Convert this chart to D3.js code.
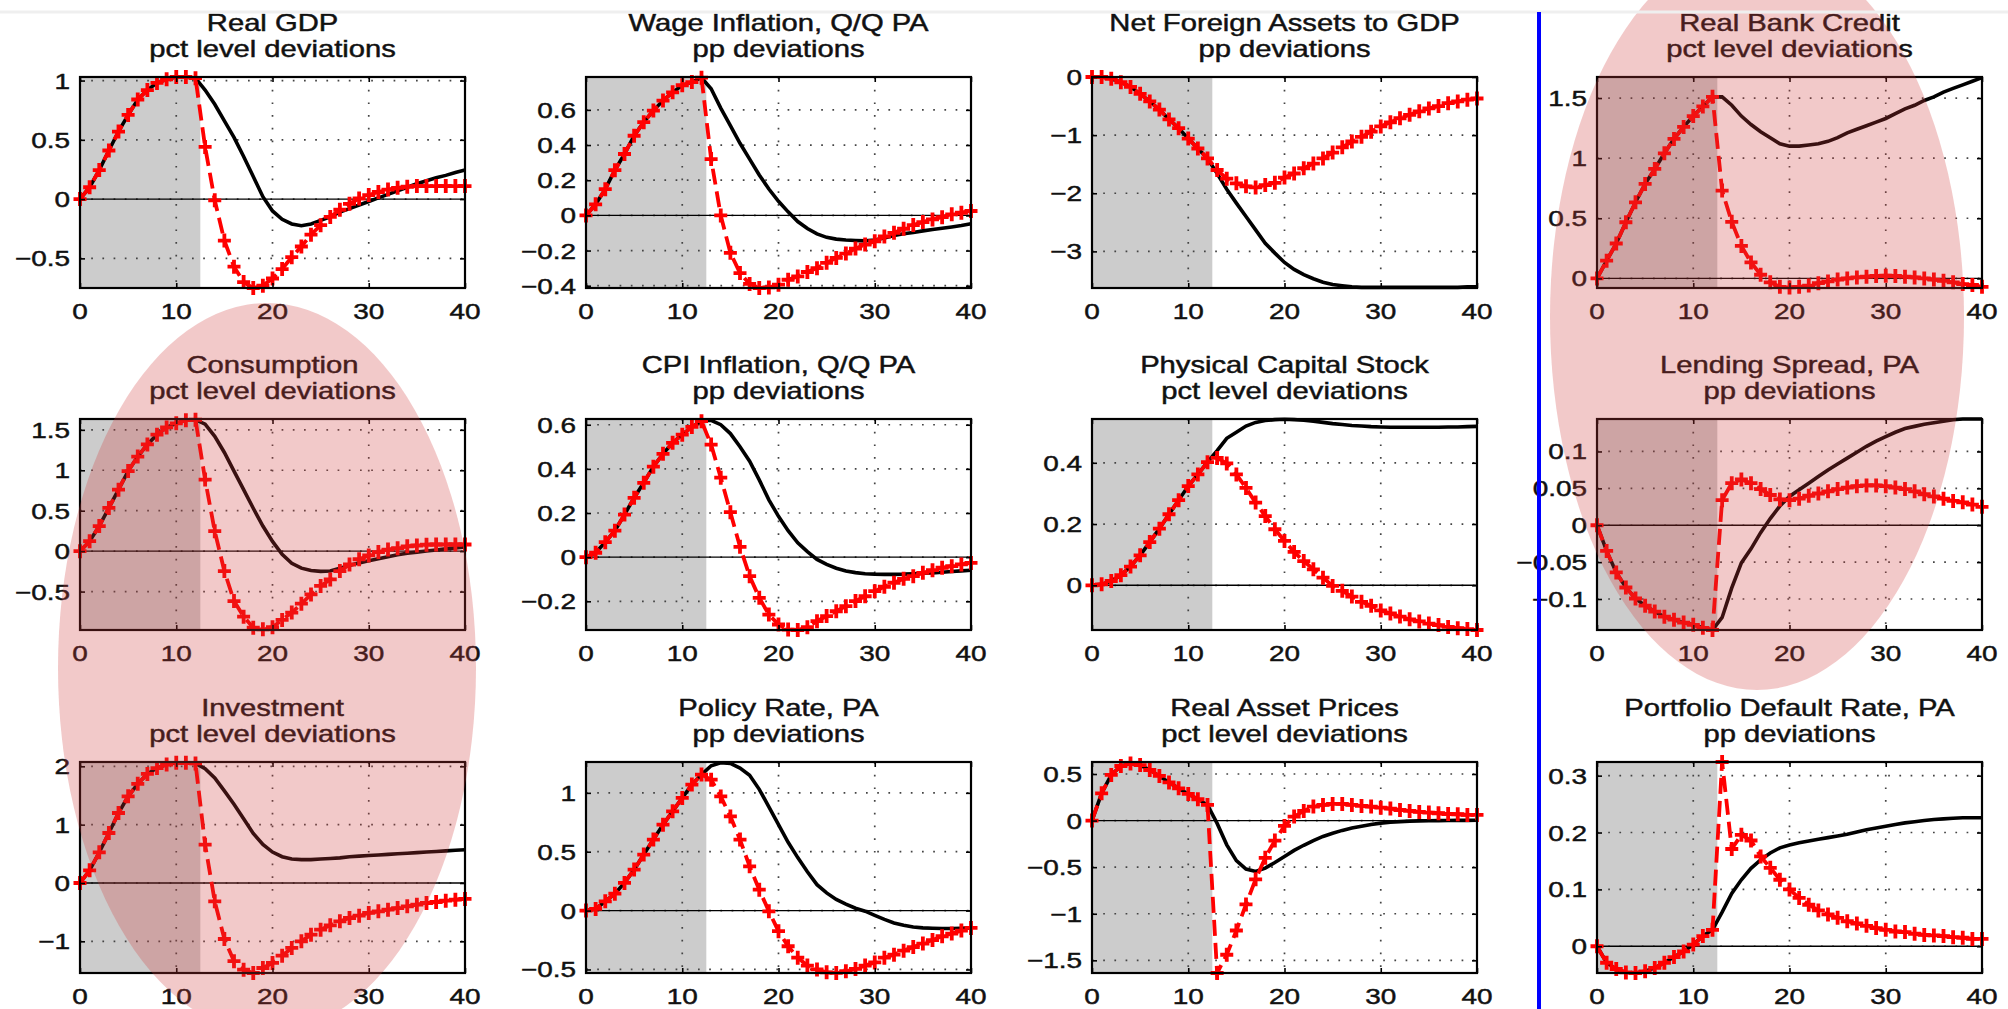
<!DOCTYPE html>
<html>
<head>
<meta charset="utf-8">
<script src="https://cdn.jsdelivr.net/npm/d3@7"></script>
<style>
  body { margin: 0; background: #fff; }
  text { font-family: "Liberation Sans", Arial, sans-serif; fill: #111; stroke: #111; stroke-width: 0.45px; }
</style>
</head>
<body>
<script>
// quarters after the shock
var periods = d3.range(0, 41);
var xTicks = [0, 10, 20, 30, 40];

// red = dashed with + markers, black = solid
var gdpRed = [0, 0.10, 0.245, 0.41, 0.57, 0.71, 0.84, 0.92, 0.98, 1.01, 1.03, 1.03, 1.02,
  0.44, -0.01, -0.35, -0.57, -0.70, -0.75, -0.73, -0.67, -0.59, -0.49,
  -0.40, -0.30, -0.22, -0.15, -0.09, -0.04, 0.005, 0.034, 0.06, 0.08,
  0.095, 0.104, 0.11, 0.11, 0.11, 0.11, 0.11, 0.11];
var gdpBlack = [0, 0.10, 0.245, 0.41, 0.57, 0.71, 0.84, 0.92, 0.98, 1.01, 1.03, 1.03, 1.02,
  0.92, 0.80, 0.66, 0.52, 0.36, 0.19, 0.02, -0.10, -0.17, -0.21,
  -0.225, -0.21, -0.18, -0.15, -0.11, -0.08, -0.05, -0.02, 0.01, 0.04,
  0.07, 0.10, 0.13, 0.155, 0.18, 0.20, 0.225, 0.245];

var wageRed = [0, 0.063, 0.149, 0.257, 0.349, 0.453, 0.53, 0.596, 0.653, 0.70, 0.74, 0.758, 0.783,
  0.32, 0.0, -0.213, -0.328, -0.39, -0.413, -0.41, -0.394, -0.366, -0.347,
  -0.322, -0.30, -0.27, -0.242, -0.217, -0.189, -0.166, -0.147, -0.12, -0.099,
  -0.076, -0.055, -0.038, -0.023, -0.01, 0.006, 0.015, 0.025];
var wageBlack = [0, 0.063, 0.149, 0.257, 0.349, 0.453, 0.53, 0.596, 0.653, 0.70, 0.74, 0.758, 0.783,
  0.72, 0.61, 0.51, 0.41, 0.32, 0.23, 0.15, 0.08, 0.02, -0.035,
  -0.075, -0.105, -0.125, -0.135, -0.14, -0.143, -0.145, -0.14, -0.128, -0.115,
  -0.105, -0.097, -0.088, -0.08, -0.073, -0.066, -0.058, -0.048];

var nfaRed = [0, 0, -0.03, -0.09, -0.17, -0.29, -0.42, -0.56, -0.73, -0.88, -1.06, -1.23, -1.40,
  -1.60, -1.75, -1.83, -1.88, -1.90, -1.86, -1.82, -1.73, -1.66, -1.57,
  -1.49, -1.40, -1.30, -1.21, -1.11, -1.03, -0.94, -0.85, -0.78, -0.71,
  -0.65, -0.59, -0.54, -0.50, -0.45, -0.42, -0.39, -0.37];
var nfaBlack = [0, 0, -0.03, -0.09, -0.17, -0.29, -0.42, -0.56, -0.73, -0.88, -1.06, -1.23, -1.40,
  -1.66, -1.93, -2.17, -2.40, -2.63, -2.86, -3.03, -3.19, -3.31, -3.40,
  -3.47, -3.53, -3.57, -3.59, -3.61, -3.62, -3.62, -3.62, -3.62, -3.62,
  -3.62, -3.62, -3.62, -3.62, -3.62, -3.62, -3.61, -3.61];

var creditRed = [0, 0.147, 0.29, 0.467, 0.633, 0.786, 0.91, 1.04, 1.16, 1.26, 1.35, 1.43, 1.51,
  0.73, 0.47, 0.27, 0.133, 0.03, -0.033, -0.07, -0.075, -0.07, -0.06,
  -0.04, -0.025, -0.01, 0.0, 0.008, 0.014, 0.02, 0.022, 0.02, 0.014,
  0.008, 0.0, -0.01, -0.02, -0.033, -0.047, -0.055, -0.07];
var creditBlack = [0, 0.147, 0.29, 0.467, 0.633, 0.786, 0.91, 1.04, 1.16, 1.26, 1.35, 1.43, 1.51,
  1.51, 1.44, 1.35, 1.28, 1.22, 1.17, 1.12, 1.10, 1.10, 1.11,
  1.12, 1.14, 1.17, 1.21, 1.24, 1.27, 1.30, 1.33, 1.37, 1.41,
  1.44, 1.48, 1.51, 1.55, 1.58, 1.61, 1.64, 1.67];

var consRed = [0, 0.123, 0.31, 0.535, 0.76, 0.99, 1.17, 1.32, 1.44, 1.53, 1.58, 1.62, 1.625,
  0.885, 0.247, -0.247, -0.617, -0.81, -0.947, -0.967, -0.94, -0.85, -0.76,
  -0.65, -0.535, -0.43, -0.35, -0.247, -0.165, -0.10, -0.053, -0.012, 0.02,
  0.037, 0.06, 0.07, 0.08, 0.082, 0.082, 0.082, 0.082];
var consBlack = [0, 0.123, 0.31, 0.535, 0.76, 0.99, 1.17, 1.32, 1.44, 1.53, 1.58, 1.62, 1.625,
  1.57, 1.42, 1.22, 0.99, 0.76, 0.53, 0.31, 0.12, -0.04, -0.15,
  -0.21, -0.24, -0.25, -0.245, -0.21, -0.177, -0.145, -0.12, -0.095, -0.07,
  -0.045, -0.025, -0.012, 0.002, 0.015, 0.028, 0.04, 0.053];

var cpiRed = [0, 0.02, 0.068, 0.12, 0.193, 0.269, 0.337, 0.41, 0.468, 0.518, 0.555, 0.59, 0.616,
  0.51, 0.36, 0.204, 0.047, -0.086, -0.184, -0.26, -0.305, -0.328, -0.33,
  -0.317, -0.29, -0.267, -0.245, -0.222, -0.199, -0.177, -0.154, -0.134, -0.116,
  -0.098, -0.086, -0.071, -0.059, -0.048, -0.041, -0.033, -0.026];
var cpiBlack = [0, 0.02, 0.068, 0.12, 0.193, 0.269, 0.337, 0.41, 0.468, 0.518, 0.555, 0.59, 0.616,
  0.62, 0.60, 0.56, 0.50, 0.435, 0.35, 0.26, 0.185, 0.12, 0.065,
  0.025, -0.01, -0.033, -0.05, -0.063, -0.07, -0.075, -0.077, -0.078, -0.078,
  -0.077, -0.075, -0.073, -0.071, -0.068, -0.065, -0.062, -0.059];

var capRed = [0, 0.003, 0.014, 0.033, 0.061, 0.098, 0.141, 0.185, 0.232, 0.278, 0.324, 0.362, 0.402,
  0.416, 0.398, 0.362, 0.318, 0.27, 0.226, 0.183, 0.145, 0.109, 0.079,
  0.052, 0.025, -0.002, -0.018, -0.037, -0.054, -0.067, -0.082, -0.092, -0.102,
  -0.111, -0.118, -0.125, -0.13, -0.136, -0.14, -0.143, -0.146];
var capBlack = [0, 0.003, 0.014, 0.033, 0.061, 0.098, 0.141, 0.185, 0.232, 0.278, 0.324, 0.362, 0.402,
  0.44, 0.48, 0.50, 0.52, 0.532, 0.538, 0.541, 0.542, 0.541, 0.539,
  0.536, 0.532, 0.528, 0.525, 0.522, 0.52, 0.518, 0.517, 0.516, 0.516,
  0.516, 0.516, 0.516, 0.516, 0.517, 0.517, 0.518, 0.519];

var spreadRed = [0, -0.0348, -0.064, -0.0844, -0.0993, -0.109, -0.117, -0.124, -0.128, -0.132, -0.135, -0.139, -0.142,
  0.034, 0.057, 0.062, 0.057, 0.049, 0.041, 0.035, 0.034, 0.036, 0.040,
  0.043, 0.046, 0.049, 0.051, 0.053, 0.054, 0.054, 0.053, 0.051, 0.049,
  0.046, 0.042, 0.039, 0.036, 0.033, 0.031, 0.028, 0.025];
var spreadBlack = [0, -0.0348, -0.064, -0.0844, -0.0993, -0.109, -0.117, -0.124, -0.128, -0.132, -0.135, -0.139, -0.142,
  -0.125, -0.085, -0.051, -0.032, -0.01, 0.009, 0.026, 0.039, 0.048, 0.057,
  0.066, 0.075, 0.083, 0.091, 0.099, 0.107, 0.114, 0.12, 0.126, 0.131,
  0.134, 0.137, 0.139, 0.141, 0.143, 0.144, 0.144, 0.144];

var invRed = [0, 0.217, 0.526, 0.857, 1.2, 1.486, 1.70, 1.87, 1.97, 2.03, 2.06, 2.06, 2.05,
  0.657, -0.314, -0.96, -1.34, -1.486, -1.543, -1.457, -1.37, -1.246, -1.114,
  -1.0, -0.886, -0.80, -0.726, -0.657, -0.60, -0.56, -0.514, -0.486, -0.457,
  -0.43, -0.40, -0.371, -0.343, -0.326, -0.303, -0.286, -0.274];
var invBlack = [0, 0.217, 0.526, 0.857, 1.2, 1.486, 1.70, 1.87, 1.97, 2.03, 2.06, 2.06, 2.05,
  1.96, 1.80, 1.58, 1.35, 1.10, 0.85, 0.66, 0.53, 0.45, 0.41,
  0.40, 0.40, 0.41, 0.42, 0.43, 0.45, 0.46, 0.47, 0.48, 0.49,
  0.50, 0.51, 0.52, 0.53, 0.54, 0.55, 0.56, 0.57];

var policyRed = [0, 0.014, 0.079, 0.144, 0.235, 0.348, 0.476, 0.603, 0.73, 0.843, 0.957, 1.07, 1.155,
  1.112, 0.97, 0.80, 0.603, 0.376, 0.178, -0.006, -0.175, -0.303, -0.40,
  -0.467, -0.50, -0.524, -0.529, -0.515, -0.495, -0.467, -0.44, -0.40, -0.374,
  -0.34, -0.31, -0.28, -0.25, -0.218, -0.195, -0.17, -0.147];
var policyBlack = [0, 0.014, 0.079, 0.144, 0.235, 0.348, 0.476, 0.603, 0.73, 0.843, 0.957, 1.07, 1.155,
  1.23, 1.255, 1.25, 1.21, 1.15, 1.03, 0.88, 0.73, 0.58, 0.45,
  0.33, 0.22, 0.15, 0.095, 0.055, 0.02, -0.005, -0.04, -0.075, -0.105,
  -0.125, -0.14, -0.147, -0.15, -0.152, -0.152, -0.15, -0.147];

var assetRed = [0, 0.293, 0.49, 0.586, 0.614, 0.596, 0.543, 0.479, 0.41, 0.346, 0.286, 0.229, 0.168,
  -1.636, -1.44, -1.18, -0.90, -0.63, -0.40, -0.214, -0.057, 0.043, 0.104,
  0.15, 0.168, 0.179, 0.179, 0.168, 0.157, 0.15, 0.139, 0.129, 0.114,
  0.104, 0.093, 0.086, 0.079, 0.071, 0.068, 0.061, 0.061];
var assetBlack = [0, 0.293, 0.49, 0.586, 0.614, 0.596, 0.543, 0.479, 0.41, 0.346, 0.286, 0.229, 0.168,
  -0.03, -0.26, -0.43, -0.52, -0.546, -0.51, -0.45, -0.386, -0.32, -0.265,
  -0.215, -0.17, -0.135, -0.105, -0.08, -0.06, -0.042, -0.027, -0.017, -0.011,
  -0.006, -0.003, -0.001, 0.0, 0.001, 0.002, 0.002, 0.003];

var defaultRed = [0, -0.029, -0.04, -0.046, -0.047, -0.044, -0.038, -0.029, -0.019, -0.009, 0.003, 0.018, 0.029,
  0.324, 0.171, 0.196, 0.186, 0.158, 0.138, 0.117, 0.10, 0.085, 0.073,
  0.063, 0.056, 0.05, 0.044, 0.04, 0.036, 0.032, 0.029, 0.026, 0.025,
  0.022, 0.02, 0.019, 0.018, 0.016, 0.015, 0.013, 0.013];
var defaultBlack = [0, -0.029, -0.04, -0.046, -0.047, -0.044, -0.038, -0.029, -0.019, -0.009, 0.003, 0.018, 0.029,
  0.06, 0.093, 0.117, 0.137, 0.152, 0.164, 0.173, 0.178, 0.182, 0.185,
  0.188, 0.191, 0.194, 0.197, 0.201, 0.205, 0.208, 0.211, 0.214, 0.217,
  0.219, 0.221, 0.223, 0.224, 0.225, 0.226, 0.226, 0.226];

// row by row, left to right
var panelTitles = ["Real GDP", "Wage Inflation, Q/Q PA", "Net Foreign Assets to GDP", "Real Bank Credit",
  "Consumption", "CPI Inflation, Q/Q PA", "Physical Capital Stock", "Lending Spread, PA",
  "Investment", "Policy Rate, PA", "Real Asset Prices", "Portfolio Default Rate, PA"];
var panelUnits = ["pct level deviations", "pp deviations", "pp deviations", "pct level deviations",
  "pct level deviations", "pp deviations", "pct level deviations", "pp deviations",
  "pct level deviations", "pp deviations", "pct level deviations", "pp deviations"];
var redSeries = [gdpRed, wageRed, nfaRed, creditRed, consRed, cpiRed, capRed, spreadRed,
  invRed, policyRed, assetRed, defaultRed];
var blackSeries = [gdpBlack, wageBlack, nfaBlack, creditBlack, consBlack, cpiBlack, capBlack, spreadBlack,
  invBlack, policyBlack, assetBlack, defaultBlack];
var yDomains = [[-0.75, 1.03], [-0.413, 0.787], [-3.63, 0], [-0.08, 1.675],
  [-0.975, 1.634], [-0.33, 0.626], [-0.146, 0.543], [-0.142, 0.144],
  [-1.543, 2.074], [-0.53, 1.262], [-1.636, 0.629], [-0.047, 0.324]];
var yTicks = [[-0.5, 0, 0.5, 1], [-0.4, -0.2, 0, 0.2, 0.4, 0.6], [-3, -2, -1, 0], [0, 0.5, 1, 1.5],
  [-0.5, 0, 0.5, 1, 1.5], [-0.2, 0, 0.2, 0.4, 0.6], [0, 0.2, 0.4], [-0.1, -0.05, 0, 0.05, 0.1],
  [-1, 0, 1, 2], [-0.5, 0, 0.5, 1], [-1.5, -1, -0.5, 0, 0.5], [0, 0.1, 0.2, 0.3]];
var shadeEnd = 12.5;

var colLeft = [80, 586, 1092, 1597];
var rowTop = [77, 419, 762];
var plotW = 385;
var plotH = 211;
var stretch = 1.27; // the figure is stretched sideways, text too

const svg = d3
  .select("body")
  .append("svg")
  .attr("width", 2008)
  .attr("height", 1009);

function fmt(v) {
  return (v < 0 ? "\u2212" : "") + String(Math.abs(v));
}

function addText(g, x, y, str, anchor, size) {
  g.append("text")
    .attr("transform", "translate(" + x + "," + y + ") scale(" + stretch + ",1)")
    .attr("text-anchor", anchor)
    .style("font-size", size + "px")
    .text(str);
}

function drawPanel(i) {
  var left = colLeft[i % 4];
  var top = rowTop[Math.floor(i / 4)];
  var g = svg.append("g").attr("transform", "translate(" + left + "," + top + ")");

  var x = d3.scaleLinear().domain([0, 40]).range([0, plotW]);
  var y = d3.scaleLinear().domain(yDomains[i]).range([plotH, 0]);

  g.append("rect")
    .attr("x", 0).attr("y", 0)
    .attr("width", x(shadeEnd)).attr("height", plotH)
    .attr("fill", "#cccccc");

  // dotted grid
  g.selectAll(".vgrid")
    .data(xTicks.slice(1, -1))
    .enter()
    .append("line")
    .attr("x1", d => x(d)).attr("x2", d => x(d))
    .attr("y1", 0).attr("y2", plotH)
    .attr("stroke", "#444").attr("stroke-width", 1.7)
    .attr("stroke-dasharray", "1.7,11");
  g.selectAll(".hgrid")
    .data(yTicks[i])
    .enter()
    .append("line")
    .attr("x1", 0).attr("x2", plotW)
    .attr("y1", d => y(d)).attr("y2", d => y(d))
    .attr("stroke", "#444").attr("stroke-width", 1.7)
    .attr("stroke-dasharray", "1.7,9.5");

  g.append("line")
    .attr("x1", 0).attr("x2", plotW)
    .attr("y1", y(0)).attr("y2", y(0))
    .attr("stroke", "#000").attr("stroke-width", 1.4);

  var line = d3.line().x((d, k) => x(periods[k])).y(d => y(d));

  g.append("path")
    .attr("d", line(blackSeries[i]))
    .attr("fill", "none")
    .attr("stroke", "#000")
    .attr("stroke-width", 3.6);

  g.append("path")
    .attr("d", line(redSeries[i]))
    .attr("fill", "none")
    .attr("stroke", "#ff0000")
    .attr("stroke-width", 3.8)
    .attr("stroke-dasharray", "16,7");

  g.selectAll(".mark")
    .data(redSeries[i])
    .enter()
    .append("path")
    .attr("d", (d, k) => {
      var px = x(periods[k]), py = y(d);
      return "M" + (px - 6.5) + "," + py + "H" + (px + 6.5) + "M" + px + "," + (py - 7) + "V" + (py + 7);
    })
    .attr("stroke", "#ff0000")
    .attr("stroke-width", 3.8);

  // box with inward ticks on all sides
  g.append("rect")
    .attr("width", plotW).attr("height", plotH)
    .attr("fill", "none").attr("stroke", "#000").attr("stroke-width", 2.2);

  g.append("g")
    .attr("transform", "translate(0," + plotH + ")")
    .call(d3.axisBottom(x).tickValues(xTicks).tickSize(-5).tickFormat(""))
    .call(a => a.select(".domain").remove());
  g.append("g")
    .call(d3.axisTop(x).tickValues(xTicks).tickSize(-5).tickFormat(""))
    .call(a => a.select(".domain").remove());
  g.append("g")
    .call(d3.axisLeft(y).tickValues(yTicks[i]).tickSize(-5).tickFormat(""))
    .call(a => a.select(".domain").remove());
  g.append("g")
    .attr("transform", "translate(" + plotW + ",0)")
    .call(d3.axisRight(y).tickValues(yTicks[i]).tickSize(-5).tickFormat(""))
    .call(a => a.select(".domain").remove());
  g.selectAll(".tick line").attr("stroke", "#000").attr("stroke-width", 1.6);

  xTicks.forEach(t => addText(g, x(t), plotH + 31, fmt(t), "middle", 22));
  yTicks[i].forEach(t => addText(g, -10, y(t) + 8, fmt(t), "end", 22));

  addText(g, plotW / 2, -46, panelTitles[i], "middle", 23);
  addText(g, plotW / 2, -20, panelUnits[i], "middle", 23);
}

d3.range(12).forEach(drawPanel);

// highlight ovals drawn over the panels
var ovals = [
  { cx: 267, cy: 668, rx: 209, ry: 365 },
  { cx: 1757, cy: 317, rx: 207, ry: 373 }
];
svg.append("g")
  .selectAll("ellipse")
  .data(ovals)
  .enter()
  .append("ellipse")
  .attr("cx", d => d.cx).attr("cy", d => d.cy)
  .attr("rx", d => d.rx).attr("ry", d => d.ry)
  .attr("fill", "rgb(210,60,60)")
  .attr("fill-opacity", 0.28);

svg.append("line")
  .attr("x1", 0).attr("x2", 2008)
  .attr("y1", 12).attr("y2", 12)
  .attr("stroke", "#efefef").attr("stroke-width", 3);

svg.append("line")
  .attr("x1", 1539).attr("x2", 1539)
  .attr("y1", 12).attr("y2", 1009)
  .attr("stroke", "#0000ff").attr("stroke-width", 4);
</script>
</body>
</html>
